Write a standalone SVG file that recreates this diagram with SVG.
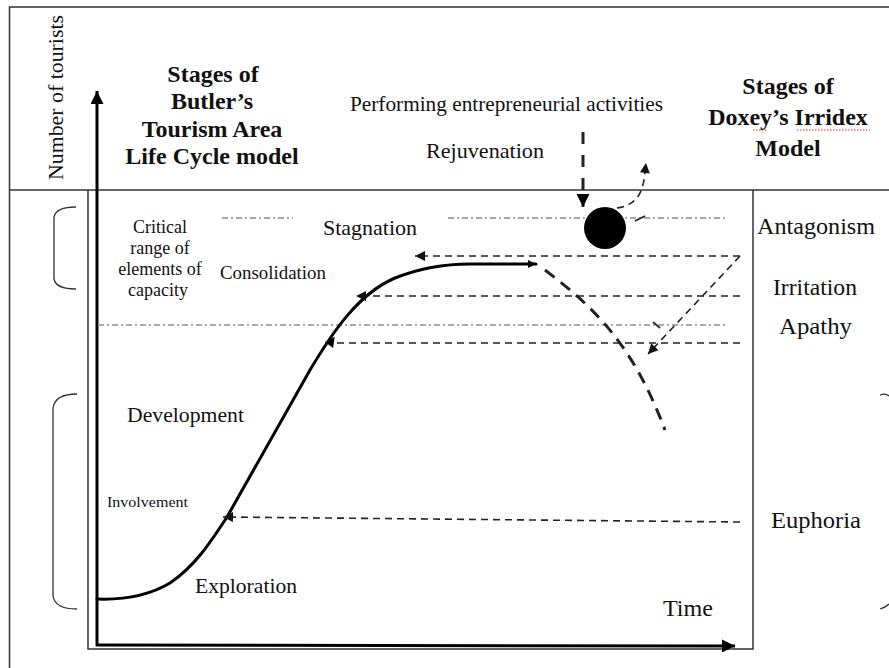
<svg xmlns="http://www.w3.org/2000/svg" width="889" height="668" viewBox="0 0 889 668">
<defs>
<style>
.t{font-family:"Liberation Serif","Times New Roman",serif;fill:#111;}
.b{font-weight:bold;}
.frame{fill:none;stroke:#333;stroke-width:1.5;}
.axis{fill:none;stroke:#000;stroke-width:3;}
.dd{fill:none;stroke:#a8a8a8;stroke-width:2;stroke-dasharray:6 3 2 3;}
.dash{fill:none;stroke:#222;stroke-width:1.6;stroke-dasharray:7 5;}
.thickdash{fill:none;stroke:#222;stroke-width:3;stroke-dasharray:12 8;}
.curve{fill:none;stroke:#000;stroke-width:3;stroke-linecap:round;}
.br{fill:none;stroke:#333;stroke-width:1.3;}
</style>
<marker id="ah" viewBox="0 0 10 10" refX="10" refY="5" markerUnits="userSpaceOnUse" markerWidth="12" markerHeight="10" orient="auto">
<path d="M0,0 L10,5 L0,10 z" fill="#111"/>
</marker>
<marker id="ahb" viewBox="0 0 10 10" refX="10" refY="5" markerUnits="userSpaceOnUse" markerWidth="15" markerHeight="13" orient="auto">
<path d="M0,0 L10,5 L0,10 z" fill="#000"/>
</marker>
<marker id="ahs" viewBox="0 0 10 10" refX="10" refY="5" markerUnits="userSpaceOnUse" markerWidth="9" markerHeight="8" orient="auto">
<path d="M0,0 L10,5 L0,10 z" fill="#000"/>
</marker>
</defs>
<rect width="889" height="668" fill="#fff"/>

<g id="frame">
<rect class="frame" x="9.5" y="7" width="900" height="700"/>
<line class="frame" x1="9.5" y1="190" x2="889" y2="190"/>
<polyline class="frame" points="88,190 88,649 753,649 753,190"/>
</g>

<g id="axes">
<line class="axis" x1="97" y1="646" x2="97" y2="91" marker-end="url(#ahb)"/>
<line class="axis" x1="96" y1="645" x2="735" y2="646" marker-end="url(#ahb)"/>
</g>

<g id="brackets">
<path class="br" d="M76,207 Q56,207 54,217 L54,279 Q56,289 76,289"/>
<path class="br" d="M77,394 Q55,394 53,408 L53,596 Q55,609 77,609"/>
<path class="br" d="M880,395 Q886,393 889,396"/>
<path class="br" d="M880,609 Q886,607 889,604"/>
</g>

<g id="reference-lines">
<line class="dd" x1="222" y1="218" x2="293" y2="218"/>
<line class="dd" x1="448" y1="218" x2="725" y2="218"/>
<line class="dd" x1="98" y1="325" x2="725" y2="325"/>
</g>

<g id="curve">
<path class="curve" d="M97,599 C125,600 150,595 170,583 C195,566 210,543 227,517 L310,370 C335,328 360,293 395,278 C420,268 445,264 470,264 L536,264" marker-end="url(#ahs)"/>
<path class="thickdash" d="M545,270 C592,306 632,342 665,430"/>
<circle id="rejuvenation-point" cx="605" cy="228" r="21" fill="#000"/>
</g>

<g id="connectors">
<path class="dash" d="M740,256 L415,256" marker-end="url(#ah)"/>
<path class="dash" d="M740,296 L356,296" marker-end="url(#ah)"/>
<path class="dash" d="M740,343 L336,343"/>
<polygon points="334.7,336.8 333.1,347.9 324.9,342.1" fill="#000"/>
<path class="dash" d="M740,522 L223,517" marker-end="url(#ah)"/>
<path class="dash" d="M740,256 L648,354" marker-end="url(#ah)"/>
<path fill="none" stroke="#222" stroke-width="3" stroke-dasharray="12 11" d="M583,132 L583,207" marker-end="url(#ahb)"/>
<path class="dash" d="M617,208 C632,206 641,198 644,180 L646,163" marker-end="url(#ah)"/>
<line x1="635" y1="221" x2="645" y2="216" stroke="#222" stroke-width="1.6"/>
<line x1="653" y1="322" x2="660" y2="328" stroke="#333" stroke-width="2"/>
</g>

<g id="axis-labels">
<text class="t" font-size="22" transform="translate(63,180) rotate(-90)" textLength="165" lengthAdjust="spacingAndGlyphs">Number of tourists</text>
<text class="t" font-size="23" x="663" y="616" textLength="50" lengthAdjust="spacingAndGlyphs">Time</text>
</g>

<g id="butler-title">
<text class="t b" font-size="24" text-anchor="middle" x="213" y="82">Stages of</text>
<text class="t b" font-size="24" text-anchor="middle" x="212" y="109">Butler’s</text>
<text class="t b" font-size="24" text-anchor="middle" x="212" y="137">Tourism Area</text>
<text class="t b" font-size="24" text-anchor="middle" x="212" y="164">Life Cycle model</text>
</g>

<g id="doxey-title">
<text class="t b" font-size="24" text-anchor="middle" x="788" y="94">Stages of</text>
<text class="t b" font-size="24" text-anchor="middle" x="788" y="125">Doxey’s Irridex</text>
<text class="t b" font-size="24" text-anchor="middle" x="788" y="156">Model</text>
<line x1="753" y1="130" x2="766" y2="130" stroke="#d22" stroke-width="1.2" stroke-dasharray="1.5 1.5"/>
<line x1="797" y1="130" x2="870" y2="130" stroke="#d22" stroke-width="1.2" stroke-dasharray="1.5 1.5"/>
</g>

<g id="rejuvenation">
<text class="t" font-size="21" x="350" y="111" textLength="313" lengthAdjust="spacingAndGlyphs">Performing entrepreneurial activities</text>
<text class="t" font-size="22" x="426" y="158" textLength="118" lengthAdjust="spacingAndGlyphs">Rejuvenation</text>
</g>

<g id="critical-range">
<text class="t" font-size="18" text-anchor="middle" x="160" y="233">Critical</text>
<text class="t" font-size="18" text-anchor="middle" x="160" y="254">range of</text>
<text class="t" font-size="18" text-anchor="middle" x="160" y="275">elements of</text>
<text class="t" font-size="18" text-anchor="middle" x="158" y="296">capacity</text>
</g>

<g id="butler-stages">
<text class="t" font-size="21" x="323" y="235" textLength="94" lengthAdjust="spacingAndGlyphs">Stagnation</text>
<text class="t" font-size="19" x="220" y="279" textLength="106" lengthAdjust="spacingAndGlyphs">Consolidation</text>
<text class="t" font-size="22" x="127" y="422" textLength="117" lengthAdjust="spacingAndGlyphs">Development</text>
<text class="t" font-size="15" x="107" y="507" textLength="81" lengthAdjust="spacingAndGlyphs">Involvement</text>
<text class="t" font-size="22" x="195" y="593" textLength="102" lengthAdjust="spacingAndGlyphs">Exploration</text>
</g>

<g id="doxey-stages">
<text class="t" font-size="24" x="757" y="234" textLength="118" lengthAdjust="spacingAndGlyphs">Antagonism</text>
<text class="t" font-size="24" x="773" y="295" textLength="84" lengthAdjust="spacingAndGlyphs">Irritation</text>
<text class="t" font-size="24" x="779" y="334" textLength="73" lengthAdjust="spacingAndGlyphs">Apathy</text>
<text class="t" font-size="24" x="771" y="528" textLength="90" lengthAdjust="spacingAndGlyphs">Euphoria</text>
</g>
</svg>
